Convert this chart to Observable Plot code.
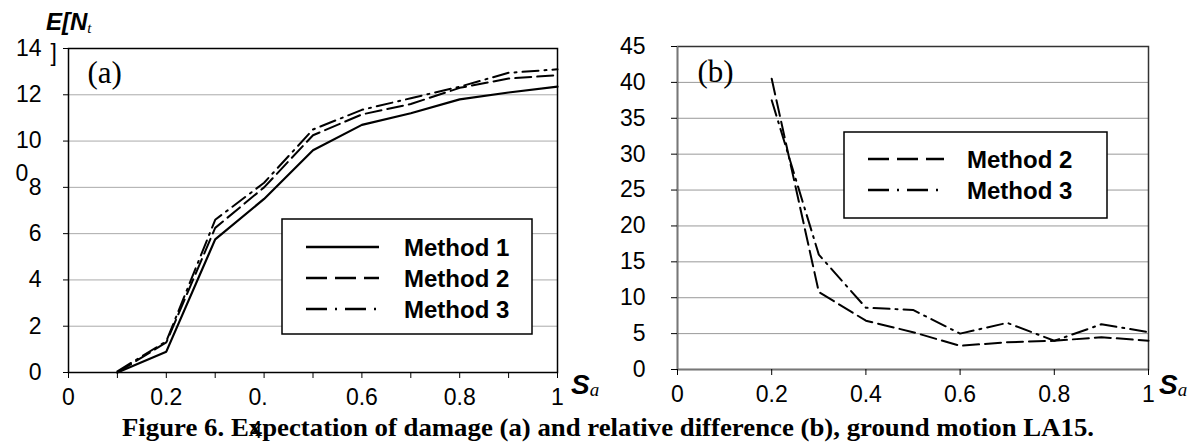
<!DOCTYPE html>
<html><head><meta charset="utf-8">
<script src="https://cdn.jsdelivr.net/npm/d3@7"></script>
<script src="https://cdn.jsdelivr.net/npm/@observablehq/plot@0.6"></script>
<style>
body{margin:0;background:#fff;}
#wrap{position:relative;width:1193px;height:442px;overflow:hidden;background:#fff;}
#wrap > svg, #wrap > div{position:absolute;}
</style></head><body><div id="wrap"></div>
<script>
// ---- data (panel a) ----
const saA = [0.1, 0.2, 0.3, 0.4, 0.5, 0.6, 0.7, 0.8, 0.9, 1.0];
const method1 = [0, 0.9, 5.75, 7.5, 9.6, 10.7, 11.2, 11.8, 12.1, 12.35];
const method2 = [0, 1.3, 6.25, 8.0, 10.25, 11.15, 11.6, 12.3, 12.7, 12.85];
const method3 = [0.05, 1.35, 6.6, 8.2, 10.5, 11.35, 11.85, 12.35, 12.95, 13.1];
// ---- data (panel b) ----
const saB = [0.2, 0.3, 0.4, 0.5, 0.6, 0.7, 0.8, 0.9, 1.0];
const diff2 = [40.5, 10.8, 6.8, 5.2, 3.3, 3.8, 4.0, 4.5, 4.0];
const diff3 = [37.5, 16.0, 8.6, 8.3, 5.0, 6.5, 4.0, 6.3, 5.2];
// ---- ticks ----
const yTicksA = [0, 2, 4, 6, 8, 10, 12, 14];
const xTicksA = [0, 0.1, 0.2, 0.3, 0.4, 0.5, 0.6, 0.7, 0.8, 0.9, 1];
const xLabelsA = ["0", "", "0.2", "", "", "", "0.6", "", "0.8", "", "1"];
const yTicksB = [0, 5, 10, 15, 20, 25, 30, 35, 40, 45];
const xTicksB = [0, 0.2, 0.4, 0.6, 0.8, 1];
const xLabelsB = ["0", "0.2", "0.4", "0.6", "0.8", "1"];
const legendA = ["Method 1", "Method 2", "Method 3"];
const legendB = ["Method 2", "Method 3"];
const caption = "Figure 6. Expectation of damage (a) and relative difference (b), ground motion LA15.";

const SANS = "Liberation Sans, Arial, sans-serif";
const SERIF = "Liberation Serif, Times New Roman, serif";
const DASH = "16,6";
const DASHDOT = "16,6,2,6";

const tbl = (xs, ys) => xs.map((x, i) => ({x, y: ys[i]}));
const labA = new Map(xTicksA.map((t, i) => [t, xLabelsA[i]]));
const labB = new Map(xTicksB.map((t, i) => [t, xLabelsB[i]]));

const wrap = document.getElementById("wrap");

const plotA = Plot.plot({
  width: 600, height: 442,
  marginLeft: 68, marginRight: 43, marginTop: 48, marginBottom: 70,
  style: {fontFamily: SANS, fontSize: "23px", color: "black", background: "transparent", overflow: "visible"},
  x: {domain: [0, 1]},
  y: {domain: [0, 14]},
  marks: [
    Plot.ruleY(yTicksA.slice(1), {stroke: "#aaa", strokeWidth: 1}),
    Plot.frame({stroke: "black", strokeWidth: 1.5}),
    Plot.axisY({ticks: yTicksA, label: null, tickSize: 5, tickPadding: 22, tickFormat: d => String(d), stroke: "black"}),
    Plot.axisX({ticks: xTicksA, label: null, tickSize: 6, tickPadding: 10, tickFormat: d => labA.get(d), stroke: "black"}),
    Plot.text([0.4], {x: d => d, frameAnchor: "bottom", dy: 16, dx: -6, lineAnchor: "top", text: () => "0."}),
    Plot.text([0.4], {x: d => d, frameAnchor: "bottom", dy: 49, dx: -8, lineAnchor: "top", text: () => "4"}),
    Plot.text([8], {y: d => d, frameAnchor: "left", dx: -53, dy: -14, text: () => "0"}),
    Plot.text([14], {y: d => d, frameAnchor: "left", dx: -18, dy: 5, text: () => "]"}),
    Plot.text(["(a)"], {frameAnchor: "top-left", dx: 19, dy: 34, lineAnchor: "bottom", textAnchor: "start", fontFamily: SERIF, fontSize: 31, text: d => d}),
    Plot.line(tbl(saA, method1), {x: "x", y: "y", stroke: "black", strokeWidth: 2.2}),
    Plot.line(tbl(saA, method2), {x: "x", y: "y", stroke: "black", strokeWidth: 2, strokeDasharray: DASH}),
    Plot.line(tbl(saA, method3), {x: "x", y: "y", stroke: "black", strokeWidth: 2, strokeDasharray: DASHDOT})
  ]
});
plotA.style.left = "0px"; plotA.style.top = "0px";
wrap.appendChild(plotA);

const plotB = Plot.plot({
  width: 593, height: 442,
  marginLeft: 77, marginRight: 45, marginTop: 46, marginBottom: 73,
  style: {fontFamily: SANS, fontSize: "23px", color: "black", background: "transparent", overflow: "visible"},
  x: {domain: [0, 1]},
  y: {domain: [0, 45]},
  marks: [
    Plot.ruleY(yTicksB.slice(1), {stroke: "#999", strokeWidth: 1}),
    Plot.frame({stroke: "#333", strokeWidth: 1.5}),
    Plot.ruleX([0], {stroke: "#777", strokeWidth: 1.5}),
    Plot.ruleY([0], {stroke: "#777", strokeWidth: 1.5}),
    Plot.axisY({ticks: yTicksB, label: null, tickSize: 6, tickPadding: 26, tickFormat: d => String(d), stroke: "black"}),
    Plot.axisX({ticks: xTicksB, label: null, tickSize: 6, tickPadding: 10, tickFormat: d => labB.get(d), stroke: "black"}),
    Plot.text(["(b)"], {frameAnchor: "top-left", dx: 20, dy: 35, lineAnchor: "bottom", textAnchor: "start", fontFamily: SERIF, fontSize: 31, text: d => d}),
    Plot.line(tbl(saB, diff2), {x: "x", y: "y", stroke: "black", strokeWidth: 2, strokeDasharray: DASH}),
    Plot.line(tbl(saB, diff3), {x: "x", y: "y", stroke: "black", strokeWidth: 2, strokeDasharray: DASHDOT})
  ]
});
plotB.style.left = "600px"; plotB.style.top = "0px";
wrap.appendChild(plotB);

// ---- overlay: axis titles, legends, caption ----
const NS = "http://www.w3.org/2000/svg";
const ov = document.createElementNS(NS, "svg");
ov.setAttribute("width", 1193); ov.setAttribute("height", 442);
ov.style.left = "0px"; ov.style.top = "0px";
wrap.appendChild(ov);
const el = (tag, attrs, parent = ov, txt) => {
  const e = document.createElementNS(NS, tag);
  for (const k in attrs) e.setAttribute(k, attrs[k]);
  if (txt != null) e.textContent = txt;
  parent.appendChild(e);
  return e;
};

// y title E[N_t
const yt = el("text", {x: 46, y: 30, "font-family": SANS, "font-size": 24, "font-weight": "bold", "font-style": "italic"});
el("tspan", {}, yt, "E[N");
el("tspan", {"font-family": SERIF, "font-size": 15, "font-weight": "normal", dy: 3}, yt, "t");

// S_a titles
for (const x0 of [571, 1159]) {
  const st = el("text", {x: x0, y: 394, "font-family": SANS, "font-size": 28, "font-weight": "bold", "font-style": "italic"});
  el("tspan", {}, st, "S");
  el("tspan", {"font-family": SERIF, "font-size": 19, "font-weight": "normal", dy: 2}, st, "a");
}

// legends
function legend(x, y, w, h, names, dashes, sx1, sx2, tx, rows) {
  el("rect", {x, y, width: w, height: h, fill: "white", stroke: "black", "stroke-width": 1.5});
  names.forEach((n, i) => {
    const attrs = {x1: sx1, x2: sx2, y1: rows[i] - 9, y2: rows[i] - 9, stroke: "black", "stroke-width": 2.5};
    if (dashes[i]) attrs["stroke-dasharray"] = dashes[i];
    el("line", attrs);
    el("text", {x: tx, y: rows[i], "font-family": SANS, "font-size": 24, "font-weight": "bold"}, ov, n);
  });
}
legend(282, 219, 250, 115, legendA, [null, "21,8", "21,8,2,8"], 306, 379, 404, [256, 287, 318]);
legend(844, 132, 263, 86, legendB, ["21,8", "21,8,2,8"], 868, 944, 967, [168, 199]);

// caption
el("text", {x: 122, y: 436, "font-family": SERIF, "font-size": 25, "font-weight": "bold", textLength: 972, lengthAdjust: "spacingAndGlyphs"}, ov, caption);
</script></body></html>
